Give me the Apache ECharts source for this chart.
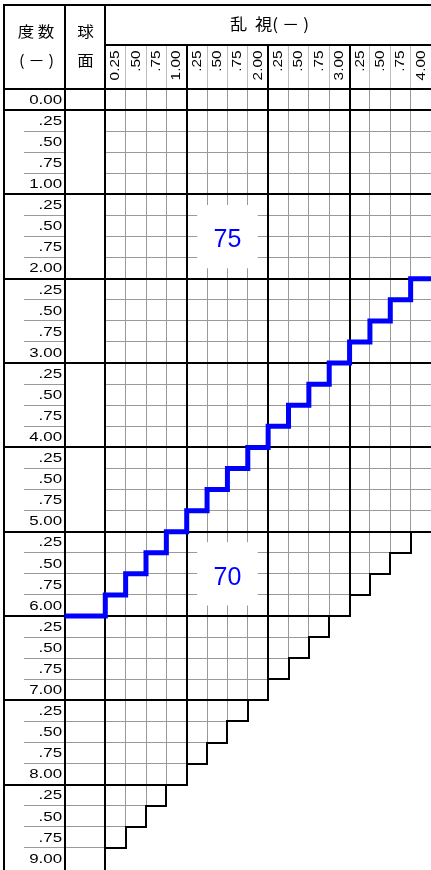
<!DOCTYPE html>
<html><head><meta charset="utf-8">
<script src="https://cdn.jsdelivr.net/npm/echarts@6/dist/echarts.min.js"></script>
<style>html,body{margin:0;padding:0;background:#fff}#c{width:431px;height:870px}</style>
</head><body><div id="c"></div>
<script>
// ---- data ----
const sphereLabels = ['0.00','.25','.50','.75','1.00','.25','.50','.75','2.00','.25','.50','.75','3.00',
  '.25','.50','.75','4.00','.25','.50','.75','5.00','.25','.50','.75','6.00','.25','.50','.75','7.00',
  '.25','.50','.75','8.00','.25','.50','.75','9.00'];
const cylLabels = ['0.25','.50','.75','1.00','.25','.50','.75','2.00','.25','.50','.75','3.00','.25','.50','.75','4.00'];
// largest astigmatism cell drawn in each sphere row (0.00 ... 9.00)
const rowMaxCyl = [4,4,4,4,4, 4,4,4,4, 4,4,4,4, 4,4,4,4, 4,4,4,4,
  3.75,3.5,3.25,3, 2.75,2.5,2.25,2, 1.75,1.5,1.25,1, 0.75,0.5,0.25,0];
// blue boundary: last sphere row above the line, for 球面 column (0) and each astigmatism column
const blueCyl    = [0, 0.25, 0.5, 0.75, 1, 1.25, 1.5, 1.75, 2, 2.25, 2.5, 2.75, 3, 3.25, 3.5, 3.75, 4];
const blueSphere = [6.00, 5.75, 5.50, 5.25, 5.00, 4.75, 4.50, 4.25, 4.00, 3.75, 3.50, 3.25, 3.00, 2.75, 2.50, 2.25, 2.00];
// zone labels: block identified by its last astigmatism column and last sphere row
const zoneLabels = ['75', '70'];
const zoneCyl    = [2.00, 2.00];
const zoneSphere = [2.00, 6.00];

// ---- layout / style ----
const STEP = 0.25;
const X_MIN = -1.25, X_SPH = -0.5, X_ROWLINE = -1.0, X_MAX = 4;
const V_MIN = -1, V_MAX = 9.25, V_SUB = -0.522;
const MAJOR = {stroke:'#000', lineWidth:2, lineCap:'square'};
const MINOR = {stroke:'#999', lineWidth:1};
const HMINOR = {stroke:'#bdbdbd', lineWidth:1};
const LATIN = 'Liberation Sans, Arial, sans-serif';
const CJK = 'Noto Sans CJK JP, sans-serif';

function snap(v, w){ return (w % 2 === 1) ? Math.round(v - 0.5) + 0.5 : Math.round(v); }
function seg(api, x1, v1, x2, v2, style){
  const a = api.coord([x1, v1]), b = api.coord([x2, v2]);
  let ax=a[0], ay=a[1], bx=b[0], by=b[1];
  const w = style.lineWidth;
  if (Math.abs(ax-bx) < 0.01){ ax = bx = snap(ax, w); ay = Math.round(ay); by = Math.round(by); }
  else { ay = by = snap(ay, w); ax = Math.round(ax); bx = Math.round(bx); }
  return {type:'line', shape:{x1:ax, y1:ay, x2:bx, y2:by}, style:Object.assign({}, style)};
}

function rowMinor(params, api){
  const r = params.dataIndex, s = r * STEP, cm = rowMaxCyl[r];
  const ch = [];
  for (let c = STEP; c < cm - 1e-9; c += STEP){
    if (Math.abs(c - Math.round(c)) < 1e-9) continue;
    ch.push(seg(api, c, s, c, s + STEP, MINOR));
  }
  if (r % 4 !== 0 && r + 1 < sphereLabels.length){
    const cn = rowMaxCyl[r + 1];
    if (cm < X_MAX) {
      ch.push(seg(api, X_ROWLINE, s + STEP, cn, s + STEP, MINOR));
    } else {
      ch.push(seg(api, X_ROWLINE, s + STEP, X_SPH, s + STEP, MINOR));
      ch.push(seg(api, 0, s + STEP, cn, s + STEP, MINOR));
    }
  }
  return {type:'group', children:ch};
}
function rowMajor(params, api){
  const r = params.dataIndex, s = r * STEP, cm = rowMaxCyl[r];
  const ch = [];
  [X_MIN, X_SPH, 0].forEach(x => ch.push(seg(api, x, s, x, s + STEP, MAJOR)));
  [1, 2, 3].forEach(x => { if (cm >= x) ch.push(seg(api, x, s, x, s + STEP, MAJOR)); });
  if (cm < X_MAX) ch.push(seg(api, cm, s, cm, s + STEP, MAJOR));
  if (r + 1 < sphereLabels.length){
    const cn = rowMaxCyl[r + 1];
    if (r % 4 === 0) ch.push(seg(api, X_MIN, s + STEP, cm, s + STEP, MAJOR));
    else if (cn < cm) ch.push(seg(api, cn, s + STEP, cm, s + STEP, MAJOR));
  }
  return {type:'group', children:ch};
}
function rowLabel(params, api){
  const r = params.dataIndex;
  const p = api.coord([X_SPH, r * STEP + STEP / 2]);
  return {type:'text', x:p[0] - 2.5, y:p[1] + 0.5, scaleX:1.25, style:{
    text:sphereLabels[r], fontSize:13.5, fontFamily:LATIN, fill:'#000', align:'right', verticalAlign:'middle'
  }};
}
function colHeader(params, api){
  const k = params.dataIndex, c = (k + 1) * STEP;
  const ch = [];
  if (Math.abs(c - Math.round(c)) > 1e-9) ch.push(seg(api, c, V_SUB, c, 0, HMINOR));
  const p = api.coord([c - STEP / 2, V_SUB]);
  ch.push({type:'text', x:p[0] + 0.5, y:p[1] + 5.5, rotation:Math.PI / 2, scaleX:1.28, style:{
    text:cylLabels[k], fontSize:12, fontFamily:LATIN, fill:'#000', align:'right', verticalAlign:'middle'
  }});
  return {type:'group', children:ch};
}
function frame(params, api){
  const ch = [];
  ch.push(seg(api, X_MIN, V_MIN, X_MAX, V_MIN, MAJOR));
  ch.push(seg(api, 0, V_SUB, X_MAX, V_SUB, MAJOR));
  ch.push(seg(api, X_MIN, 0, X_MAX, 0, MAJOR));
  [X_MIN, X_SPH, 0].forEach(x => ch.push(seg(api, x, V_MIN, x, 0, MAJOR)));
  [1, 2, 3].forEach(x => ch.push(seg(api, x, V_SUB, x, 0, MAJOR)));
  return {type:'group', children:ch};
}
function zone(params, api){
  const i = params.dataIndex, c = zoneCyl[i], s = zoneSphere[i];
  const a = api.coord([c - 1, s - 0.75]), b = api.coord([c, s + STEP]);
  const pad = 10.5;
  return {type:'group', children:[
    {type:'rect', shape:{x:a[0] + pad, y:a[1] + pad, width:b[0] - a[0] - 2 * pad, height:b[1] - a[1] - 2 * pad}, style:{fill:'#fff'}},
    {type:'text', x:(a[0] + b[0]) / 2, y:(a[1] + b[1]) / 2 + 4, style:{text:zoneLabels[i], fontSize:25, fontFamily:LATIN, fill:'#0000ff', align:'center', verticalAlign:'middle'}}
  ]};
}

const rowData = sphereLabels.map((_, i) => [0, i * STEP]);
const colData = cylLabels.map((_, k) => [(k + 1) * STEP, -0.25]);
const blueData = [[X_SPH, blueSphere[0] + STEP]].concat(blueCyl.map((c, i) => [c, blueSphere[i] + STEP]));
const zoneData = zoneLabels.map((_, i) => [zoneCyl[i], zoneSphere[i]]);

const chart = echarts.init(document.getElementById('c'), null, {renderer:'canvas', width:431, height:870});
const head = (x, y, t, fs, sx) => ({type:'text', x:x, y:y, scaleX:sx, z:10,
  style:{text:t, fontSize:fs, fontFamily:CJK, fill:'#000', align:'center', verticalAlign:'middle'}});
chart.setOption({
  animation:false,
  backgroundColor:'#fff',
  grid:{left:3.5, top:4.7, width:430.5, height:864.3},
  xAxis:{type:'value', min:X_MIN, max:X_MAX, show:false},
  yAxis:{type:'value', min:V_MIN, max:V_MAX, inverse:true, show:false},
  graphic:[
    head(36, 31.5, '度 数', 15, 1.1),
    head(36.5, 60.5, '( － )', 15, 1.1),
    head(85.5, 31.5, '球', 15, 1.1),
    head(85.5, 60.5, '面', 15, 1.1),
    head(269.5, 23.5, '乱  視( － )', 16, 1.08)
  ],
  series:[
    {type:'custom', name:'minor', z:1, data:rowData, renderItem:rowMinor, silent:true},
    {type:'custom', name:'colHeader', z:1, data:colData, renderItem:colHeader, silent:true},
    {type:'custom', name:'zones', z:2, data:zoneData, renderItem:zone, silent:true},
    {type:'custom', name:'major', z:3, data:rowData, renderItem:rowMajor, silent:true},
    {type:'custom', name:'frame', z:3, data:[[0, -0.5]], renderItem:frame, silent:true},
    {type:'line', name:'boundary', z:4, data:blueData, step:'start', showSymbol:false, symbol:'none',
      lineStyle:{color:'#0000ff', width:5, join:'miter', cap:'butt'}, silent:true},
    {type:'custom', name:'rowLabels', z:5, data:rowData, renderItem:rowLabel, silent:true}
  ]
});
</script></body></html>
